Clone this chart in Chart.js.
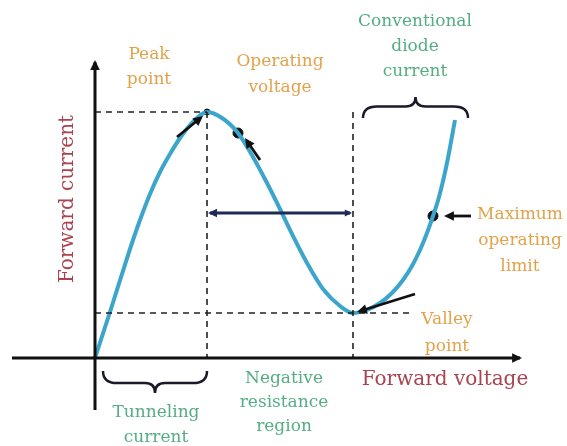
<!DOCTYPE html>
<html>
<head>
<meta charset="utf-8">
<script src="https://cdn.jsdelivr.net/npm/chart.js@4.4.0/dist/chart.umd.min.js"></script>
<style>
  body { margin: 0; background: #fff; }
  #wrap { width: 567px; height: 446px; position: relative; }
</style>
</head>
<body>
<div id="wrap"><canvas id="diodeChart"></canvas></div>
<script>
// tunnel diode I-V curve (arbitrary units)
const voltage = [0, 1.5, 2.7, 3.8, 4.5, 5.5, 6.5, 7.5, 8.5, 9.5, 10.3, 11.2, 12.7, 14.3, 15.8, 17.2,
  18.5, 19.8, 21.2, 22.8, 24.5, 25.8, 27.2, 28.5, 29.7, 30.8, 31.7, 32.5, 33.2, 33.8, 34.4, 35.2, 36.0];
const current = [0, 4.6, 8.4, 11.8, 13.8, 16.4, 18.6, 20.4, 22.0, 23.3, 24.1, 24.6, 24.0, 22.5, 20.1, 17.5,
  14.9, 12.2, 9.5, 6.9, 5.2, 4.5, 4.8, 5.5, 6.5, 7.8, 9.2, 10.8, 12.5, 14.2, 16.1, 19.5, 23.8];

const peak = { x: 11.2, y: 24.6 };
const valley = { x: 25.8, y: 4.5 };
const operating = { x: 14.3, y: 22.5 };
const maxLimit = { x: 33.8, y: 14.2 };
const negRegionY = 14.5;
const valleyLineEnd = 31.5;
const xAxisRange = [-8.3, 42.5];
const yAxisRange = [-5.2, 29.6];

const curvePoints = voltage.map((v, i) => ({ x: v, y: current[i] }));

const dashed = (pts) => ({
  data: pts,
  showLine: true,
  borderColor: '#222',
  borderWidth: 1.6,
  borderDash: [6, 5],
  pointRadius: 0,
  fill: false,
});

const orange = '#e2a24a';
const green = '#55ad84';
const red = '#a8444f';

const overlay = {
  id: 'overlay',
  afterDraw(chart) {
    const ctx = chart.ctx;
    const xs = chart.scales.x, ys = chart.scales.y;
    const px = (v) => xs.getPixelForValue(v);
    const py = (v) => ys.getPixelForValue(v);

    const arrowHead = (x1, y1, x2, y2, size, color) => {
      const a = Math.atan2(y2 - y1, x2 - x1);
      ctx.save();
      ctx.fillStyle = color;
      ctx.beginPath();
      ctx.moveTo(x2, y2);
      ctx.lineTo(x2 - size * Math.cos(a - 0.45), y2 - size * Math.sin(a - 0.45));
      ctx.lineTo(x2 - size * Math.cos(a + 0.45), y2 - size * Math.sin(a + 0.45));
      ctx.closePath();
      ctx.fill();
      ctx.restore();
    };
    const pointer = (x1, y1, x2, y2) => {
      ctx.save();
      ctx.strokeStyle = '#111';
      ctx.lineWidth = 2.8;
      ctx.beginPath();
      ctx.moveTo(x1, y1);
      const a = Math.atan2(y2 - y1, x2 - x1);
      ctx.lineTo(x2 - 6 * Math.cos(a), y2 - 6 * Math.sin(a));
      ctx.stroke();
      ctx.restore();
      arrowHead(x1, y1, x2, y2, 11, '#111');
    };

    // axis arrowheads
    arrowHead(px(0), py(0), px(0), py(yAxisRange[1]) - 2, 11, '#111');
    arrowHead(px(0), py(0), px(xAxisRange[1]) + 2, py(0), 11, '#111');

    // horizontal arrow across the negative resistance region
    const hy = py(negRegionY);
    arrowHead(px(valley.x), hy, px(peak.x) + 1, hy, 10, '#1e2a55');
    arrowHead(px(peak.x), hy, px(valley.x) - 1, hy, 8, '#1e2a55');

    // pointers to labelled points
    pointer(px(peak.x) - 30, py(peak.y) + 25, px(peak.x) - 4, py(peak.y) + 4);
    pointer(px(operating.x) + 22, py(operating.y) + 27, px(operating.x) + 7, py(operating.y) + 5);
    pointer(px(maxLimit.x) + 38, py(maxLimit.y), px(maxLimit.x) + 11, py(maxLimit.y));
    pointer(px(valley.x) + 62, py(valley.y) - 19, px(valley.x) + 4, py(valley.y) - 1);

    // curly braces
    const brace = (x1, x2, yBase, depth) => {
      const xm = (x1 + x2) / 2;
      const d = depth;
      ctx.save();
      ctx.strokeStyle = '#1a1a2a';
      ctx.lineWidth = 2.5;
      ctx.beginPath();
      ctx.moveTo(x1, yBase);
      ctx.quadraticCurveTo(x1, yBase + d * 0.55, x1 + 14, yBase + d * 0.55);
      ctx.lineTo(xm - 10, yBase + d * 0.55);
      ctx.quadraticCurveTo(xm, yBase + d * 0.55, xm, yBase + d);
      ctx.quadraticCurveTo(xm, yBase + d * 0.55, xm + 10, yBase + d * 0.55);
      ctx.lineTo(x2 - 14, yBase + d * 0.55);
      ctx.quadraticCurveTo(x2, yBase + d * 0.55, x2, yBase);
      ctx.stroke();
      ctx.restore();
    };
    brace(px(0.8), px(peak.x), py(0) + 13, 22);
    brace(px(26.8), px(37.3), py(peak.y) + 6, -21);

    // labels
    const label = (lines, x, y, color, size, gap) => {
      ctx.save();
      ctx.fillStyle = color;
      ctx.font = size + 'px "DejaVu Serif", serif';
      ctx.textAlign = 'center';
      ctx.textBaseline = 'middle';
      lines.forEach((t, i) => ctx.fillText(t, x, y + i * gap));
      ctx.restore();
    };
    label(['Peak', 'point'], 149, 55, orange, 17, 25);
    label(['Operating', 'voltage'], 280, 62, orange, 17, 26);
    label(['Conventional', 'diode', 'current'], 415, 22, green, 17, 25);
    label(['Maximum', 'operating', 'limit'], 520, 215, orange, 17, 26);
    label(['Valley', 'point'], 447, 320, orange, 17, 27);
    label(['Negative', 'resistance', 'region'], 284, 379, green, 17, 24);
    label(['Tunneling', 'current'], 156, 413, green, 17, 25);
    label(['Forward voltage'], 445, 380, red, 20, 0);

    ctx.save();
    ctx.translate(68, 199);
    ctx.rotate(-Math.PI / 2);
    ctx.fillStyle = red;
    ctx.font = '20px "DejaVu Serif", serif';
    ctx.textAlign = 'center';
    ctx.textBaseline = 'middle';
    ctx.fillText('Forward current', 0, 0);
    ctx.restore();
  },
};

new Chart(document.getElementById('diodeChart'), {
  type: 'scatter',
  data: {
    datasets: [
      // axes
      { data: [{ x: xAxisRange[0], y: 0 }, { x: xAxisRange[1], y: 0 }], showLine: true, borderColor: '#111', borderWidth: 3, pointRadius: 0 },
      { data: [{ x: 0, y: yAxisRange[0] }, { x: 0, y: yAxisRange[1] }], showLine: true, borderColor: '#111', borderWidth: 3, pointRadius: 0 },
      // guide lines
      dashed([{ x: 0, y: peak.y }, { x: peak.x, y: peak.y }]),
      dashed([{ x: peak.x, y: peak.y }, { x: peak.x, y: 0 }]),
      dashed([{ x: 0, y: valley.y }, { x: valleyLineEnd, y: valley.y }]),
      dashed([{ x: valley.x, y: peak.y }, { x: valley.x, y: 0 }]),
      // negative resistance span
      { data: [{ x: peak.x + 0.3, y: negRegionY }, { x: valley.x - 0.3, y: negRegionY }], showLine: true, borderColor: '#1e2a55', borderWidth: 3, pointRadius: 0 },
      // the curve
      {
        data: curvePoints,
        showLine: true,
        borderColor: '#3ba5cb',
        borderWidth: 4,
        pointRadius: 0,
        cubicInterpolationMode: 'monotone',
      },
      // marked points
      {
        data: [peak, operating, maxLimit],
        pointRadius: [3, 5, 5],
        pointBackgroundColor: '#111',
        pointBorderColor: '#111',
        showLine: false,
      },
    ],
  },
  options: {
    responsive: true,
    maintainAspectRatio: false,
    animation: false,
    layout: { padding: 0, autoPadding: false },
    plugins: { legend: { display: false }, tooltip: { enabled: false } },
    scales: {
      x: { type: 'linear', min: -9.5, max: 47.2, display: false },
      y: { type: 'linear', min: -8.8, max: 35.8, display: false },
    },
  },
  plugins: [overlay],
});
</script>
</body>
</html>
